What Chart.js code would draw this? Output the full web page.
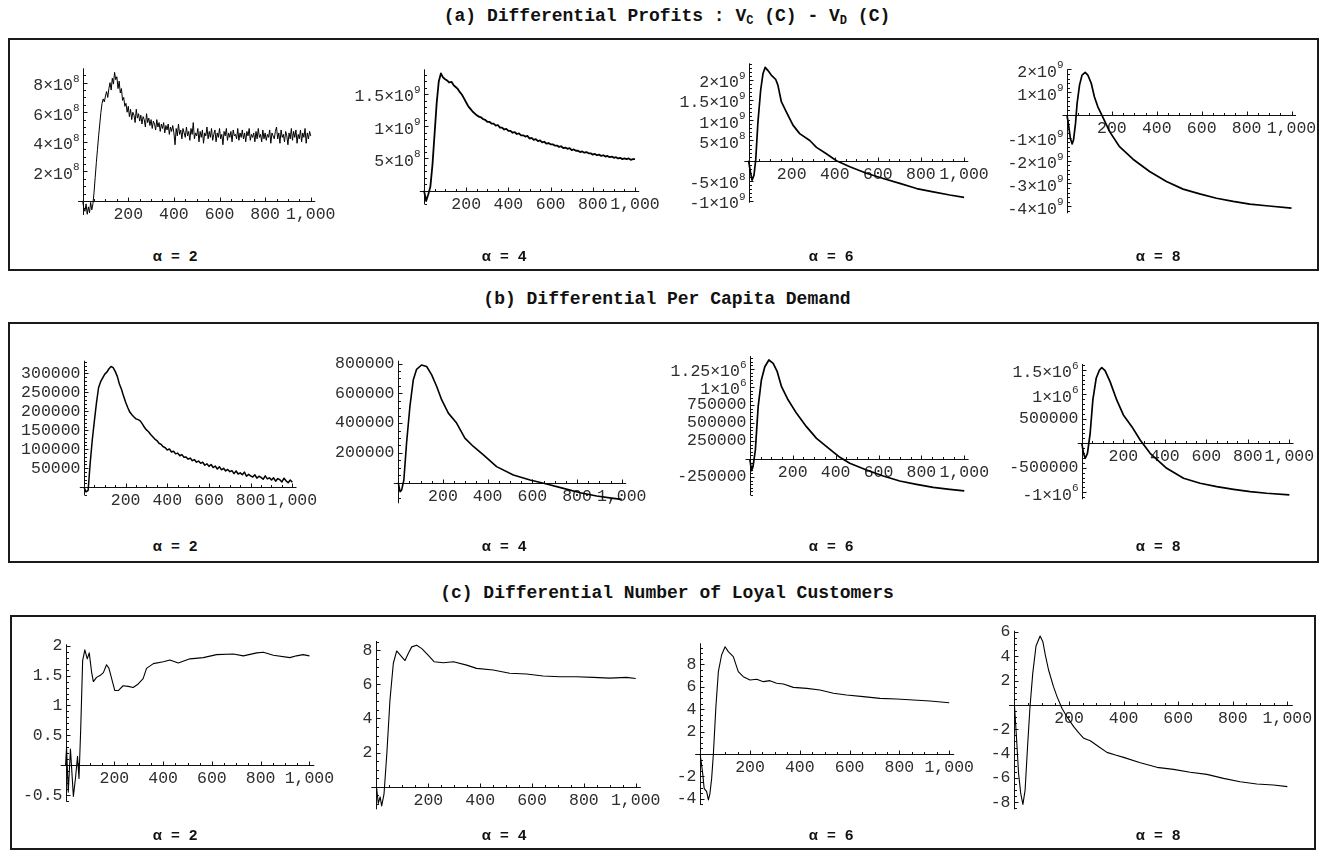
<!DOCTYPE html>
<html>
<head>
<meta charset="utf-8">
<title>Differential profits, demand and loyal customers</title>
<script src="https://cdn.jsdelivr.net/npm/chart.js@4.4.1/dist/chart.umd.min.js"></script>
<style>
  body { margin: 0; background: #fff; }
  #page { position: relative; width: 1325px; height: 852px; overflow: hidden; }
  .box { position: absolute; border: 2px solid #1a1a1a; box-sizing: border-box; }
  .title {
    position: absolute; left: 0; width: 1334px; text-align: center;
    font: bold 18px "Liberation Mono", monospace; line-height: 20px; color: #111; white-space: pre;
  }
  .title sub { font-size: 12px; vertical-align: -3px; line-height: 0; }
  .alpha {
    position: absolute; width: 80px; margin-left: -40px; text-align: center;
    font: bold 15px "Liberation Sans", sans-serif; word-spacing: 5px; line-height: 16px; color: #111;
  }
  canvas { position: absolute; }
</style>
</head>
<body>
<div id="page">
  <div class="title" style="top:6px">(a) Differential Profits : V<sub>C</sub> (C) - V<sub>D</sub> (C)</div>
  <div class="box" style="left:8px; top:38px; width:1311px; height:233px"></div>

  <div class="title" style="top:289px">(b) Differential Per Capita Demand</div>
  <div class="box" style="left:8px; top:322px; width:1311px; height:241px"></div>

  <div class="title" style="top:583px">(c) Differential Number of Loyal Customers</div>
  <div class="box" style="left:10px; top:615px; width:1306px; height:235px"></div>
</div>

<script>
/* ======================================================
   Datos
====================================================== */

// periodos 0..1000 (series con ruido)
const PERIODS_5 = Array.from({ length: 201 }, (_, i) => i * 5);
const PERIODS_10 = Array.from({ length: 101 }, (_, i) => i * 10);

const X_TICKS = [200, 400, 600, 800, 1000];
const X_LABELS = ['200', '400', '600', '800', '1,000'];

const ALPHAS = ['α = 2', 'α = 4', 'α = 6', 'α = 8'];

// (a) beneficios diferenciales
const PROFIT_A2 = [
  0, -0.5e8, -0.7e8, -0.2e8, -0.9e8, -0.4e8, -0.8e8, -0.1e8, -0.6e8, -0.2e8,
  0.6e8, 1.6e8, 2.6e8, 3.5e8, 4.4e8, 5.2e8, 6.0e8, 6.6e8, 6.9e8, 6.7e8,
  7.1e8, 7.4e8, 7.0e8, 7.6e8, 8.0e8, 7.5e8, 8.3e8, 7.9e8, 8.7e8, 8.2e8,
  8.4e8, 7.6e8, 8.1e8, 7.3e8, 7.6e8, 6.8e8, 7.0e8, 6.4e8, 6.6e8, 6.0e8,
  6.4e8, 5.7e8, 6.2e8, 5.5e8, 6.0e8, 5.8e8, 5.3e8, 6.2e8, 5.6e8, 5.9e8,
  5.4e8, 5.8e8, 5.2e8, 5.7e8, 5.5e8, 5.0e8, 5.9e8, 5.3e8, 5.6e8, 5.1e8,
  5.5e8, 4.9e8, 5.4e8, 5.2e8, 4.8e8, 5.5e8, 5.0e8, 5.3e8, 4.7e8, 5.2e8,
  4.9e8, 5.3e8, 4.6e8, 5.1e8, 4.8e8, 5.2e8, 4.5e8, 5.0e8, 4.7e8, 5.1e8,
  4.6e8, 3.8e8, 4.9e8, 4.4e8, 5.2e8, 4.5e8, 4.8e8, 4.2e8, 4.9e8, 4.6e8,
  4.3e8, 5.0e8, 4.4e8, 4.7e8, 4.1e8, 4.9e8, 4.5e8, 5.3e8, 4.2e8, 4.6e8,
  4.4e8, 4.9e8, 4.0e8, 4.7e8, 4.3e8, 4.8e8, 3.9e8, 4.6e8, 4.4e8, 5.0e8,
  4.2e8, 4.7e8, 4.3e8, 4.9e8, 4.1e8, 4.5e8, 4.8e8, 4.0e8, 4.6e8, 4.3e8,
  4.9e8, 4.2e8, 4.5e8, 3.8e8, 4.7e8, 4.4e8, 4.9e8, 4.1e8, 4.6e8, 4.3e8,
  4.7e8, 4.0e8, 4.8e8, 4.4e8, 4.5e8, 4.2e8, 4.9e8, 4.1e8, 4.6e8, 4.3e8,
  4.8e8, 4.2e8, 4.6e8, 4.0e8, 4.7e8, 4.4e8, 4.9e8, 4.1e8, 4.5e8, 4.3e8,
  4.6e8, 4.0e8, 4.7e8, 4.2e8, 4.9e8, 4.3e8, 4.5e8, 4.0e8, 4.8e8, 4.2e8,
  4.6e8, 4.1e8, 4.5e8, 4.3e8, 4.8e8, 3.9e8, 4.6e8, 4.4e8, 4.2e8, 4.7e8,
  5.0e8, 4.2e8, 4.6e8, 3.9e8, 4.8e8, 4.3e8, 4.5e8, 4.0e8, 4.7e8, 4.4e8,
  3.8e8, 4.6e8, 4.2e8, 4.9e8, 4.1e8, 4.7e8, 4.3e8, 4.8e8, 3.9e8, 4.5e8,
  4.2e8, 4.8e8, 4.0e8, 4.6e8, 4.3e8, 4.9e8, 3.9e8, 4.6e8, 4.2e8, 4.7e8,
  4.4e8
];
const PROFIT_A4 = [
  0, -0.16e9, -0.06e9, 0.06e9, 0.40e9, 0.88e9, 1.36e9, 1.70e9, 1.82e9, 1.76e9,
  1.73e9, 1.71e9, 1.68e9, 1.69e9, 1.64e9, 1.61e9, 1.58e9, 1.53e9, 1.49e9, 1.43e9,
  1.37e9, 1.31e9, 1.27e9, 1.23e9, 1.20e9, 1.17e9, 1.15e9, 1.14e9, 1.11e9, 1.10e9,
  1.07e9, 1.07e9, 1.04e9, 1.04e9, 1.01e9, 1.02e9, 0.98e9, 0.98e9, 0.95e9, 0.96e9,
  0.93e9, 0.93e9, 0.90e9, 0.91e9, 0.88e9, 0.89e9, 0.86e9, 0.86e9, 0.84e9, 0.85e9,
  0.81e9, 0.82e9, 0.79e9, 0.80e9, 0.77e9, 0.78e9, 0.75e9, 0.76e9, 0.73e9, 0.74e9,
  0.72e9, 0.72e9, 0.70e9, 0.70e9, 0.68e9, 0.69e9, 0.66e9, 0.67e9, 0.65e9, 0.66e9,
  0.63e9, 0.64e9, 0.62e9, 0.62e9, 0.60e9, 0.61e9, 0.59e9, 0.60e9, 0.58e9, 0.58e9,
  0.56e9, 0.57e9, 0.55e9, 0.56e9, 0.54e9, 0.55e9, 0.53e9, 0.54e9, 0.52e9, 0.53e9,
  0.51e9, 0.52e9, 0.50e9, 0.51e9, 0.49e9, 0.50e9, 0.49e9, 0.50e9, 0.48e9, 0.49e9,
  0.49e9
];
const PERIODS_A6 = [0, 8, 16, 25, 33, 43, 56, 67, 77, 90, 105, 126, 136, 152, 175, 206, 237, 284, 315, 361, 408, 470, 547, 625, 702, 780, 857, 934, 1000];
const PROFIT_A6 = [
  0, -0.27e9, -0.48e9, -0.36e9, 0.02e9, 0.93e9, 1.75e9, 2.16e9, 2.31e9, 2.23e9,
  2.12e9, 2.01e9, 1.87e9, 1.46e9, 1.21e9, 0.88e9, 0.67e9, 0.50e9, 0.33e9, 0.17e9,
  0, -0.15e9, -0.31e9, -0.44e9, -0.56e9, -0.69e9, -0.77e9, -0.85e9, -0.91e9
];
const PERIODS_A8 = [0, 8, 15, 23, 29, 38, 45, 56, 67, 81, 93, 108, 122, 137, 160, 190, 234, 294, 368, 443, 517, 591, 666, 740, 814, 888, 1000];
const PROFIT_A8 = [
  0, -0.51e9, -1.02e9, -1.27e9, -1.10e9, -0.37e9, 0.51e9, 1.32e9, 1.75e9, 1.87e9,
  1.75e9, 1.39e9, 0.80e9, 0.37e9, -0.10e9, -0.73e9, -1.39e9, -1.94e9, -2.48e9, -2.92e9,
  -3.25e9, -3.46e9, -3.65e9, -3.79e9, -3.91e9, -3.98e9, -4.08e9
];

// (b) demanda per cápita diferencial
const DEMAND_A2 = [
  0, -12e3, -8e3, 65e3, 125e3, 175e3, 222e3, 262e3, 278e3, 288e3,
  298e3, 303e3, 312e3, 318e3, 315e3, 305e3, 292e3, 272e3, 258e3, 240e3,
  224e3, 210e3, 198e3, 191e3, 185e3, 180e3, 178e3, 175e3, 167e3, 158e3,
  151e3, 146e3, 139e3, 133e3, 127e3, 123e3, 116e3, 113e3, 107e3, 104e3,
  98e3, 101e3, 93e3, 95e3, 88e3, 90e3, 83e3, 86e3, 79e3, 80e3,
  74e3, 77e3, 70e3, 73e3, 66e3, 69e3, 63e3, 66e3, 58e3, 62e3,
  55e3, 60e3, 52e3, 56e3, 48e3, 54e3, 46e3, 50e3, 43e3, 47e3,
  41e3, 44e3, 36e3, 43e3, 35e3, 38e3, 33e3, 40e3, 29e3, 34e3,
  30e3, 27e3, 33e3, 24e3, 29e3, 26e3, 21e3, 30e3, 22e3, 25e3,
  19e3, 25e3, 16e3, 23e3, 20e3, 14e3, 24e3, 17e3, 12e3, 19e3,
  13e3
];
const PERIODS_B4 = [0, 8, 15, 25, 37, 52, 67, 82, 104, 127, 149, 172, 194, 224, 261, 298, 336, 381, 440, 515, 590, 664, 739, 814, 888, 963, 1000];
const DEMAND_A4 = [
  0, -60e3, -50e3, 18e3, 264e3, 510e3, 689e3, 761e3, 790e3, 780e3,
  725e3, 646e3, 557e3, 467e3, 400e3, 299e3, 243e3, 187e3, 108e3, 52e3,
  18e3, -9e3, -38e3, -67e3, -89e3, -105e3, -112e3
];
const PERIODS_B6 = [0, 8, 15, 26, 39, 54, 70, 89, 109, 128, 148, 179, 218, 264, 311, 358, 420, 466, 544, 622, 699, 777, 855, 932, 1000];
const DEMAND_A6 = [
  0, -162e3, -106e3, 125e3, 727e3, 1097e3, 1282e3, 1375e3, 1329e3, 1213e3,
  1004e3, 819e3, 634e3, 449e3, 287e3, 171e3, 23e3, -60e3, -153e3, -236e3,
  -306e3, -352e3, -394e3, -421e3, -442e3
];
const PERIODS_B8 = [0, 8, 16, 27, 40, 53, 69, 85, 96, 112, 136, 168, 200, 241, 281, 329, 409, 490, 570, 650, 731, 811, 891, 1000];
const DEMAND_A8 = [
  0, -204e3, -306e3, -204e3, 204e3, 884e3, 1327e3, 1496e3, 1544e3, 1483e3,
  1259e3, 884e3, 578e3, 340e3, 68e3, -204e3, -510e3, -714e3, -816e3, -884e3,
  -939e3, -986e3, -1020e3, -1054e3
];

// (c) número diferencial de clientes leales
const PERIODS_C2 = [0, 4, 11, 20, 32, 41, 49, 55, 62, 70, 79, 89, 97, 107, 114, 127, 141, 155, 168, 178, 189, 202, 216, 236, 257, 277, 298, 318, 332, 360, 401, 428, 462, 510, 565, 619, 688, 729, 784, 811, 852, 920, 947, 974, 1000];
const LOYAL_A2 = [
  0, 0.30, -0.45, 0.27, -0.52, -0.20, 0.15, -0.22, 0.60, 1.75,
  1.93, 1.78, 1.88, 1.55, 1.40, 1.47, 1.50, 1.55, 1.68, 1.62,
  1.45, 1.25, 1.25, 1.33, 1.32, 1.30, 1.36, 1.45, 1.62, 1.70,
  1.73, 1.76, 1.71, 1.78, 1.80, 1.85, 1.86, 1.83, 1.88, 1.89,
  1.84, 1.80, 1.83, 1.85, 1.83
];
const PERIODS_C4 = [0, 7, 14, 20, 29, 40, 52, 65, 78, 91, 110, 123, 136, 155, 175, 200, 222, 258, 297, 348, 386, 450, 514, 579, 643, 707, 771, 836, 900, 964, 1000];
const LOYAL_A4 = [
  0, -0.98, -0.6, -1.13, -0.44, 1.96, 5.08, 7.24, 7.96, 7.73,
  7.40, 7.83, 8.20, 8.30, 8.10, 7.70, 7.33, 7.27, 7.33, 7.13,
  6.94, 6.84, 6.65, 6.61, 6.49, 6.45, 6.45, 6.41, 6.37, 6.41,
  6.35
];
const PERIODS_C6 = [0, 10, 16, 26, 33, 39, 46, 53, 63, 73, 86, 100, 113, 133, 153, 173, 200, 227, 254, 280, 307, 334, 374, 428, 481, 535, 588, 655, 722, 789, 856, 923, 1000];
const LOYAL_A6 = [
  0, -1.73, -3.07, -3.36, -4.1, -3.55, -2.2, 0, 4.17, 7.35,
  8.84, 9.58, 9.14, 8.69, 7.35, 6.9, 6.61, 6.67, 6.46, 6.55,
  6.31, 6.25, 5.95, 5.86, 5.71, 5.42, 5.27, 5.12, 4.97, 4.91,
  4.82, 4.73, 4.58
];
const PERIODS_C8 = [0, 8, 15, 23, 31, 39, 48, 57, 67, 79, 94, 104, 113, 125, 143, 156, 174, 192, 217, 235, 254, 278, 309, 339, 370, 400, 461, 522, 583, 644, 705, 766, 827, 888, 949, 1000];
const LOYAL_A8 = [
  0, -2.88, -5.62, -7.27, -8.18, -7.0, -3.43, -0.14, 2.6, 4.86,
  5.68, 5.21, 4.12, 2.88, 1.51, 0.69, -0.27, -0.96, -1.78, -2.28,
  -2.74, -2.94, -3.43, -3.9, -4.12, -4.31, -4.75, -5.13, -5.30, -5.54,
  -5.71, -6.04, -6.31, -6.5, -6.58, -6.72
];

// marcas del eje vertical ('^' = exponente)
const Y_TICKS = {
  a2: [2e8, 4e8, 6e8, 8e8],
  a4: [5e8, 1e9, 1.5e9],
  a6: [-1e9, -5e8, 5e8, 1e9, 1.5e9, 2e9],
  a8: [-4e9, -3e9, -2e9, -1e9, 1e9, 2e9],
  b2: [50e3, 100e3, 150e3, 200e3, 250e3, 300e3],
  b4: [200e3, 400e3, 600e3, 800e3],
  b6: [-250e3, 250e3, 500e3, 750e3, 1e6, 1.25e6],
  b8: [-1e6, -500e3, 500e3, 1e6, 1.5e6],
  c2: [-0.5, 0.5, 1, 1.5, 2],
  c4: [2, 4, 6, 8],
  c6: [-4, -2, 2, 4, 6, 8],
  c8: [-8, -6, -4, -2, 2, 4, 6]
};
const Y_LABELS = {
  a2: ['2×10^8', '4×10^8', '6×10^8', '8×10^8'],
  a4: ['5×10^8', '1×10^9', '1.5×10^9'],
  a6: ['-1×10^9', '-5×10^8', '5×10^8', '1×10^9', '1.5×10^9', '2×10^9'],
  a8: ['-4×10^9', '-3×10^9', '-2×10^9', '-1×10^9', '1×10^9', '2×10^9'],
  b2: ['50000', '100000', '150000', '200000', '250000', '300000'],
  b4: ['200000', '400000', '600000', '800000'],
  b6: ['-250000', '250000', '500000', '750000', '1×10^6', '1.25×10^6'],
  b8: ['-1×10^6', '-500000', '500000', '1×10^6', '1.5×10^6'],
  c2: ['-0.5', '0.5', '1', '1.5', '2'],
  c4: ['2', '4', '6', '8'],
  c6: ['-4', '-2', '2', '4', '6', '8'],
  c8: ['-8', '-6', '-4', '-2', '2', '4', '6']
};

/* ======================================================
   Geometría de cada panel (área de trazado en la página)
====================================================== */
const PANELS = [
  { id: 'a2', x: PERIODS_5, y: PROFIT_A2, area: [78.1, 68.3, 315.3, 215], range: [-0.95e8, 8.97e8], minor: 0.5e8, lw: 1 },
  { id: 'a4', x: PERIODS_10, y: PROFIT_A4, area: [419.8, 69.3, 639.2, 204], range: [-0.207e9, 1.885e9], minor: 1e8, lw: 1.8 },
  { id: 'a6', x: PERIODS_A6, y: PROFIT_A6, area: [744.3, 63.3, 968.3, 202.7], range: [-1.04e9, 2.411e9], minor: 1e8, lw: 1.7 },
  { id: 'a8', x: PERIODS_A8, y: PROFIT_A8, area: [1062.5, 69.3, 1296, 213.3], range: [-4.311e9, 2.004e9], minor: 2e8, lw: 1.7 },
  { id: 'b2', x: PERIODS_10, y: DEMAND_A2, area: [79.8, 360.7, 296.5, 495], range: [-20.3e3, 333.2e3], minor: 10e3, lw: 1.5 },
  { id: 'b4', x: PERIODS_B4, y: DEMAND_A4, area: [393.8, 360.7, 626.2, 503.3], range: [-138.3e3, 818.8e3], minor: 50e3, lw: 1.6 },
  { id: 'b6', x: PERIODS_B6, y: DEMAND_A6, area: [745.5, 356, 968.6, 495], range: [-500e3, 1430.6e3], minor: 50e3, lw: 1.7 },
  { id: 'b8', x: PERIODS_B8, y: DEMAND_A8, area: [1077.7, 364, 1293.5, 499.3], range: [-1143e3, 1618e3], minor: 100e3, lw: 1.7 },
  { id: 'c2', x: PERIODS_C2, y: LOYAL_A2, area: [60.7, 644.3, 314.3, 801.7], range: [-0.609, 2.023], minor: 0.1, lw: 1.1 },
  { id: 'c4', x: PERIODS_C4, y: LOYAL_A4, area: [371.3, 641, 640.9, 809.3], range: [-1.326, 8.545], minor: 0.5, lw: 1.1 },
  { id: 'c6', x: PERIODS_C6, y: LOYAL_A6, area: [695.2, 643.3, 954.2, 805], range: [-4.554, 9.884], minor: 0.5, lw: 1.1 },
  { id: 'c8', x: PERIODS_C8, y: LOYAL_A8, area: [1009, 630.7, 1292.8, 809.3], range: [-8.584, 6.115], minor: 0.5, lw: 1.1 }
];

const ALPHA_X = [175, 504, 831, 1158];
const ALPHA_Y = { a: 256, b: 546, c: 835 };

const INK = '#111111';
const LABEL_INK = '#2e2e2e';
const TICK_FONT = '16.5px "Liberation Mono", "Courier New", monospace';
const SUP_FONT = '11px "Liberation Mono", "Courier New", monospace';

/* ======================================================
   Ejes cruzados en el origen (estilo Mathematica)
====================================================== */
function makeCrossAxes(panel) {
  return {
    id: 'crossAxes',
    beforeDatasetsDraw(chart) {
      const { ctx, chartArea: a, scales: { x, y } } = chart;
      const ox = Math.round(x.getPixelForValue(0)) + 0.5;
      const oy = Math.round(y.getPixelForValue(0)) + 0.5;
      const majors = Y_TICKS[panel.id];
      const labels = Y_LABELS[panel.id];

      ctx.save();
      ctx.strokeStyle = INK;
      ctx.lineWidth = 1;
      ctx.beginPath();
      ctx.moveTo(a.left, oy); ctx.lineTo(a.right, oy);
      ctx.moveTo(ox, a.top); ctx.lineTo(ox, a.bottom);

      // marcas en x: cada 50, principales cada 200
      for (let v = 50; v <= x.max; v += 50) {
        const px = Math.round(x.getPixelForValue(v)) + 0.5;
        const len = v % 200 === 0 ? 4 : 2.5;
        ctx.moveTo(px, oy); ctx.lineTo(px, oy - len);
      }

      // marcas en y
      const step = panel.minor;
      const n0 = Math.ceil(y.min / step), n1 = Math.floor(y.max / step);
      for (let n = n0; n <= n1; n++) {
        if (n === 0) continue;
        const v = n * step;
        const major = majors.some(m => Math.abs(m - v) < step * 0.01);
        const py = Math.round(y.getPixelForValue(v)) + 0.5;
        ctx.moveTo(ox, py); ctx.lineTo(ox + (major ? 4 : 2.5), py);
      }
      ctx.stroke();

      ctx.fillStyle = LABEL_INK;

      // etiquetas x
      ctx.font = TICK_FONT;
      ctx.textAlign = 'center';
      ctx.textBaseline = 'middle';
      X_TICKS.forEach((v, i) => {
        ctx.fillText(X_LABELS[i], x.getPixelForValue(v), oy + 13);
      });

      // etiquetas y (con exponente en superíndice)
      ctx.textAlign = 'right';
      majors.forEach((v, i) => {
        const py = y.getPixelForValue(v);
        const [base, sup] = labels[i].split('^');
        const right = ox - 4;
        if (sup) {
          ctx.font = SUP_FONT;
          const wSup = ctx.measureText(sup).width;
          ctx.fillText(sup, right, py - 4);
          ctx.font = TICK_FONT;
          ctx.fillText(base, right - wSup, py + 3);
        } else {
          ctx.font = TICK_FONT;
          ctx.fillText(base, right, py);
        }
      });
      ctx.restore();
    }
  };
}

/* ======================================================
   Construcción de los paneles
====================================================== */
const page = document.getElementById('page');
const PAD = { left: 95, right: 45, top: 10, bottom: 30 };

PANELS.forEach((panel, idx) => {
  const [l, t, r, b] = panel.area;
  const cl = Math.floor(l) - PAD.left;
  const ct = Math.floor(t) - PAD.top;
  const cw = Math.ceil(r) + PAD.right - cl;
  const ch = Math.ceil(b) + PAD.bottom - ct;

  const canvas = document.createElement('canvas');
  canvas.width = cw;
  canvas.height = ch;
  canvas.style.left = cl + 'px';
  canvas.style.top = ct + 'px';
  canvas.style.width = cw + 'px';
  canvas.style.height = ch + 'px';
  page.appendChild(canvas);

  const points = panel.x.map((v, i) => ({ x: v, y: panel.y[i] }));

  new Chart(canvas, {
    type: 'line',
    data: {
      datasets: [{
        data: points,
        borderColor: '#000',
        borderWidth: panel.lw,
        borderJoinStyle: 'round',
        pointRadius: 0,
        tension: 0,
        fill: false
      }]
    },
    options: {
      responsive: false,
      animation: false,
      events: [],
      parsing: false,
      layout: {
        padding: { left: l - cl, top: t - ct, right: cl + cw - r, bottom: ct + ch - b }
      },
      plugins: { legend: { display: false }, tooltip: { enabled: false } },
      scales: {
        x: { type: 'linear', min: -20, max: 1020, display: false },
        y: { type: 'linear', min: panel.range[0], max: panel.range[1], display: false }
      }
    },
    plugins: [makeCrossAxes(panel)]
  });

  // rótulo α bajo cada panel
  const lab = document.createElement('div');
  lab.className = 'alpha';
  lab.textContent = ALPHAS[idx % 4];
  lab.style.left = ALPHA_X[idx % 4] + 'px';
  lab.style.top = (ALPHA_Y[panel.id[0]] - 8) + 'px';
  page.appendChild(lab);
});
</script>
</body>
</html>
